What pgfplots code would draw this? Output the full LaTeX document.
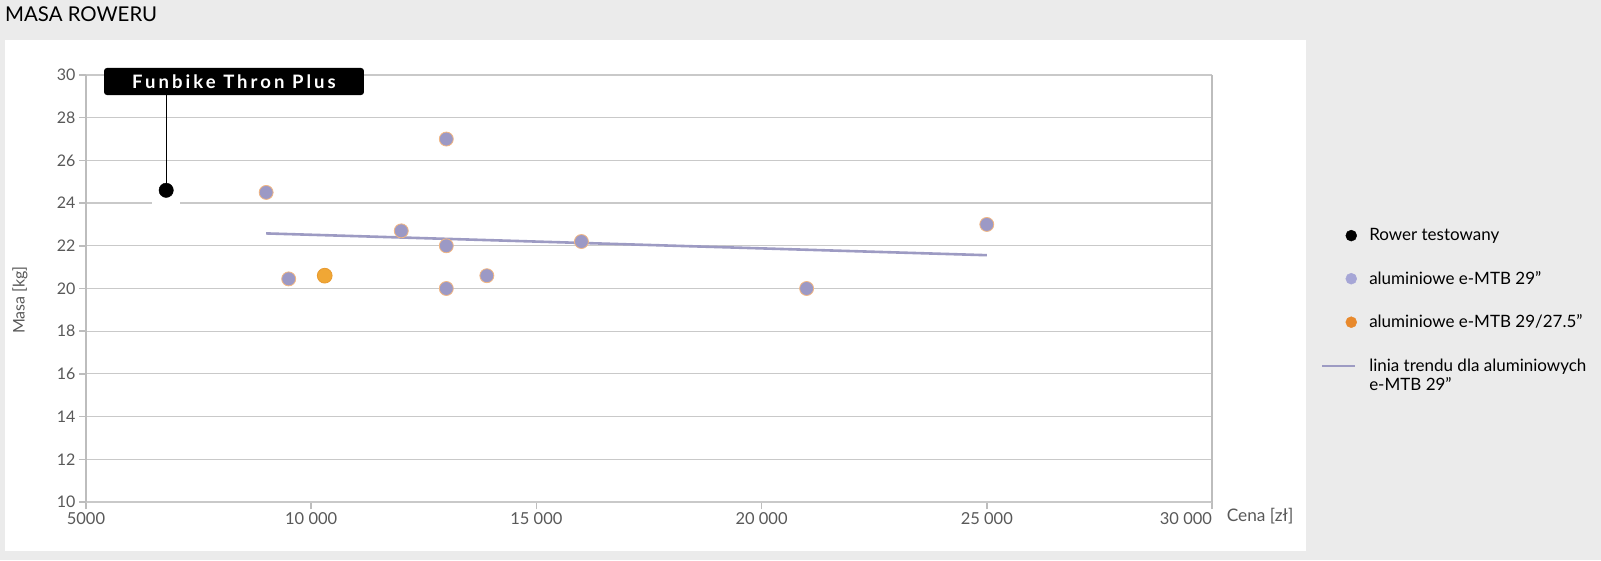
\documentclass[border=0pt]{standalone}
\usepackage{fontspec}
\setmainfont{Lato}
\newfontfamily\callfont[LetterSpace=16.5]{Lato}
\usepackage{pgfplots}
\pgfplotsset{compat=1.18}
\definecolor{bg}{HTML}{EBEBEB}
\definecolor{gridc}{HTML}{C9C9C9}
\definecolor{axc}{HTML}{BDBDBD}
\definecolor{tickc}{HTML}{595959}
\definecolor{purp}{HTML}{9C99C5}
\definecolor{purpedge}{HTML}{F2B682}
\definecolor{orng}{HTML}{F0A735}
\definecolor{orngedge}{HTML}{E89A30}
\definecolor{legpurp}{HTML}{A6A6D6}
\definecolor{legorng}{HTML}{E8892C}
\definecolor{trend}{HTML}{9D9BC3}
\begin{document}
\begin{tikzpicture}
\fill[bg] (0pt,0pt) rectangle (1601pt,560pt);
\fill[white] (5pt,9pt) rectangle (1306pt,520pt);
\node[anchor=base west, inner sep=0pt, font=\fontsize{20.4}{24}\selectfont] at (5pt,538.5pt) {MASA ROWERU};
\begin{axis}[
  at={(86pt,58pt)}, anchor=south west, scale only axis,
  width=1126pt, height=427pt,
  xmin=5000, xmax=30000, ymin=10, ymax=30,
  clip=false,
  scaled x ticks=false,
  xtick={5000,10000,15000,20000,25000,30000},
  xticklabels={5000,10 000,15 000,20 000,25 000,{30 000\hphantom{30 000}\hspace{12pt}}},
  ytick={10,12,...,30},
  ymajorgrids,
  grid style={gridc, line width=1.2pt},
  axis line style={gridc, line width=1.5pt},
  separate axis lines,
  y axis line style={axc, line width=2.5pt},
  tick align=outside,
  major tick length=7pt,
  tick style={axc, line width=1.5pt},
  xtick pos=left, ytick pos=left,
  /pgf/number format/assume math mode=true,
  yticklabel style={font=\fontsize{16}{18}\selectfont, text=tickc},
  xticklabel style={font=\fontsize{16.5}{18}\selectfont, text=tickc},
  ylabel={Masa [kg]},
  ylabel style={at={(axis description cs:-0.0586,0.473)}, anchor=center, font=\fontsize{16}{18}\selectfont, text=tickc},
  xlabel={Cena [zł]},
  xlabel style={at={(axis description cs:1.010,-0.0398)}, anchor=mid west, font=\fontsize{17.3}{19}\selectfont, text=tickc},
  legend style={at={(axis description cs:1.0966,0.645)}, anchor=north west, draw=none, fill=none,
    font=\fontsize{17}{19}\selectfont, row sep=25pt, inner sep=0pt},
  legend cell align=left,
]
% annotation background
\fill[white] (axis cs:6465,23.8) rectangle (axis cs:7087,24.2);
\draw[black, line width=1.2pt] (axis cs:6780,24.6) -- (axis cs:6780,29.1);
\fill[black, rounded corners=3pt] (axis cs:5400,29.06) rectangle (axis cs:11172,30.33);
\node[text=white, font=\callfont\bfseries\fontsize{18.5}{21}\selectfont] at (axis cs:8286,29.69) {Funbike Thron Plus};
% trend
\addplot[trend, line width=2.6pt, forget plot] coordinates {(9000,22.58) (25000,21.56)};
% purple
\addplot[only marks, mark=*, mark size=7pt, mark options={fill=purp, draw=purpedge, line width=0.8pt}, forget plot] coordinates {
(9000,24.5) (9500,20.45) (12000,22.7) (13000,27) (13000,22) (13000,20) (13900,20.6) (16000,22.2) (21000,20) (25000,23)};
% orange
\addplot[only marks, mark=*, mark size=7.4pt, mark options={fill=orng, draw=orngedge, line width=0.8pt}, forget plot] coordinates {(10300,20.6)};
% tested
\addplot[only marks, mark=*, mark size=7.2pt, mark options={fill=black, draw=black}, forget plot] coordinates {(6780,24.6)};
% legend
\addlegendimage{legend image code/.code={\path[draw=none,fill=none] (0pt,-6pt) rectangle (45pt,6pt); \draw[only marks, mark=*, mark size=5.5pt, black] plot coordinates {(29pt,0pt)};}}
\addlegendentry{Rower testowany}
\addlegendimage{legend image code/.code={\path[draw=none,fill=none] (0pt,-6pt) rectangle (45pt,6pt); \draw[only marks, mark=*, mark size=5.5pt, legpurp] plot coordinates {(29pt,0pt)};}}
\addlegendentry{aluminiowe e-MTB 29”}
\addlegendimage{legend image code/.code={\path[draw=none,fill=none] (0pt,-6pt) rectangle (45pt,6pt); \draw[only marks, mark=*, mark size=5.5pt, legorng] plot coordinates {(29pt,0pt)};}}
\addlegendentry{aluminiowe e-MTB 29/27.5”}
\addlegendimage{legend image code/.code={\path[draw=none,fill=none] (0pt,-6pt) rectangle (45pt,6pt); \draw[trend, line width=2.6pt] (0pt,0pt) -- (33pt,0pt);}}
\addlegendentry{\begin{tabular}[t]{@{}l@{}}linia trendu dla aluminiowych\\[0pt]e-MTB 29”\end{tabular}}
\end{axis}
\pgfresetboundingbox
\useasboundingbox (0pt,0pt) rectangle (1601pt,560pt);
\end{tikzpicture}
\end{document}
